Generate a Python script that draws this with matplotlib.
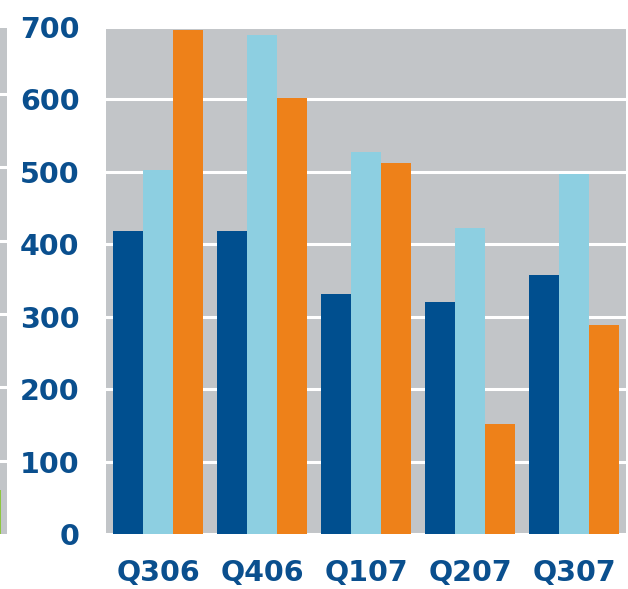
import matplotlib.pyplot as plt
import numpy as np

# data
quarters = ['Q306', 'Q406', 'Q107', 'Q207', 'Q307']
series_dark = [418, 418, 332, 321, 357]
series_light = [503, 689, 527, 423, 497]
series_orange = [696, 602, 512, 152, 289]
yticks = [0, 100, 200, 300, 400, 500, 600, 700]

dark_blue = '#004f8f'
light_blue = '#8dcfe1'
orange = '#ee8119'
gray = '#c2c5c8'
text_col = '#0a4f8e'

fig = plt.figure(figsize=(6.28, 5.89), dpi=100)

bottom = (589 - 534) / 589
top = (589 - 27) / 589
ax = fig.add_axes([106 / 628, bottom, 520 / 628, top - bottom])
ax.set_facecolor(gray)

x = np.arange(len(quarters))
w = 0.29
ax.bar(x - w, series_dark, w, color=dark_blue, zorder=3)
ax.bar(x, series_light, w, color=light_blue, zorder=3)
ax.bar(x + w, series_orange, w, color=orange, zorder=3)

ax.set_xlim(-0.5, 4.5)
ax.set_ylim(0, 700)
ax.set_yticks(yticks)
ax.yaxis.grid(True, color='white', linewidth=2.2, zorder=1)
ax.set_axisbelow(True)
ax.set_xticks(x)
ax.set_xticklabels(quarters)
ax.tick_params(length=0)
ax.tick_params(axis='y', pad=19)
ax.tick_params(axis='x', pad=18)
for lab in ax.get_yticklabels() + ax.get_xticklabels():
    lab.set_fontsize(20.5)
    lab.set_fontweight('bold')
    lab.set_color(text_col)
for s in ax.spines.values():
    s.set_visible(False)

# sliver of a neighbouring chart at the left edge
ax2 = fig.add_axes([0, bottom, 7 / 628, (589 - 28) / 589 - bottom])
ax2.set_facecolor(gray)
ax2.set_xlim(0, 7)
ax2.set_ylim(0, 690)
for v in yticks[1:]:
    ax2.axhline(v, color='white', linewidth=2.2)
ax2.bar([0.75], [60], 1.5, color='#8dc63f')
ax2.set_xticks([])
ax2.set_yticks([])
for s in ax2.spines.values():
    s.set_visible(False)

plt.savefig('out.png', dpi=100)
